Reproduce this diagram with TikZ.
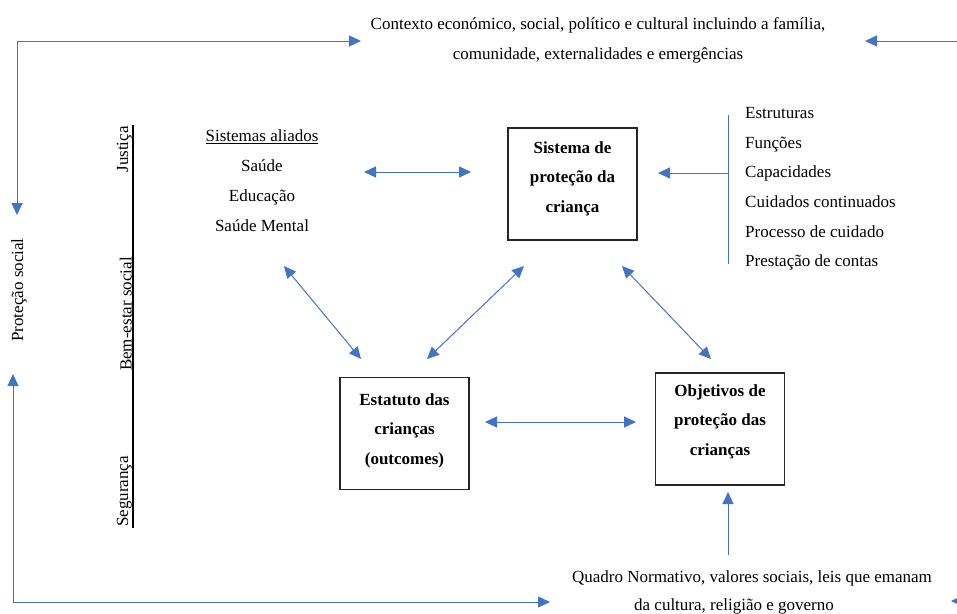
\documentclass[tikz,border=0pt]{standalone}
\usepackage{fontspec}
\setmainfont{Liberation Serif}
\usetikzlibrary{arrows.meta}
\definecolor{linkblue}{RGB}{68,114,196}
\tikzset{
  tipshape/.tip={Triangle[length=12pt,width=11pt]},
  link/.style={draw=linkblue, line width=1pt},
  both/.style={link, tipshape-tipshape},
  one/.style={link, -tipshape},
  box/.style={draw=black!85, line width=1.2pt, minimum width=129pt, minimum height=112pt, inner sep=0pt},
  boxtext/.style={align=center, inner sep=0pt, font=\bfseries\fontsize{17}{29.5}\selectfont},
  txt/.style={inner sep=0pt, font=\fontsize{17}{30}\selectfont},
  sidelabel/.style={inner sep=1pt, rotate=90, font=\fontsize{17}{20}\selectfont},
}
\begin{document}
\begin{tikzpicture}[x=1pt,y=-1pt]
\useasboundingbox (0,0) rectangle (957,613);
\fill[white] (0,0) rectangle (957,613);

% context at the top and normative frame at the bottom
\node[txt, align=center] (ctx) at (598,40) {Contexto económico, social, político e cultural incluindo a família,\\comunidade, externalidades e emergências};
\node[txt] (norm1) at (752,578) {Quadro Normativo, valores sociais, leis que emanam};
\node[txt] (norm2) at (734,606) {da cultura, religião e governo};

% social protection on the far left
\node[sidelabel] (prot) at (19,290) {Proteção social};

% justice / welfare / safety axis
\coordinate (axtop) at (133,125);
\coordinate (axbot) at (133,528);
\draw[black, line width=1.3pt] (axtop) -- (axbot);
\node[sidelabel, anchor=south east] (just) at (axtop) {Justiça};
\node[sidelabel, anchor=south] (bem) at (133,314) {Bem-estar social};
\node[sidelabel, anchor=south west] (seg) at (axbot) {Segurança};

% allied systems
\node[txt, align=center] (allied) at (262,181) {\underline{Sistemas aliados}\\Saúde\\Educação\\Saúde Mental};

% the three main boxes
\node[box] (sys) at (572.5,184) {};
\node[boxtext] (sysT) at (572.5,178.5) {Sistema de\\proteção da\\criança};
\node[box] (est) at (404.5,433.5) {};
\node[boxtext] (estT) at (404.5,430.5) {Estatuto das\\crianças\\(outcomes)};
\node[box] (obj) at (720,429) {};
\node[boxtext] (objT) at (720,421.5) {Objetivos de\\proteção das\\crianças};

% components of the protection system
\node[txt, align=left, anchor=west, font=\fontsize{17}{29.6}\selectfont] (comp) at (745,189) {Estruturas\\Funções\\Capacidades\\Cuidados continuados\\Processo de cuidado\\Prestação de contas};

% outer loop connectors
\coordinate (tlA) at (17,215);
\coordinate (tlC) at (17,41);
\coordinate (tlB) at (361,41);
\draw[both] (tlA) -- (tlC) -- (tlB);
\coordinate (trA) at (965,41);
\coordinate (trB) at (865,41);
\draw[one] (trA) -- (trB);
\coordinate (blA) at (13,374);
\coordinate (blC) at (13,602);
\coordinate (blB) at (550,602);
\draw[both] (blA) -- (blC) -- (blB);
\coordinate (brA) at (980,601);
\coordinate (brB) at (951,601);
\draw[one] (brA) -- (brB);

% component bracket and its arrow
\coordinate (brkT) at (728,115);
\coordinate (brkB) at (728,264);
\coordinate (brkM) at (728,173);
\coordinate (sysR) at (658,173);
\draw[link] (brkT) -- (brkB);
\draw[one] (brkM) -- (sysR);

% normative frame to objectives
\coordinate (normTop) at (728,555);
\coordinate (objBot) at (728,492);
\draw[one] (normTop) -- (objBot);

% relations between the systems
\coordinate (alR) at (364,172);
\coordinate (sysL) at (471,172);
\draw[both] (alR) -- (sysL);
\coordinate (alB) at (284,266);
\coordinate (estTL) at (361,359);
\draw[both] (alB) -- (estTL);
\coordinate (estTR) at (427,359);
\coordinate (sysBL) at (524,266);
\draw[both] (estTR) -- (sysBL);
\coordinate (sysBR) at (622,266);
\coordinate (objTL) at (711,359);
\draw[both] (sysBR) -- (objTL);
\coordinate (estR) at (485,422);
\coordinate (objL) at (636,422);
\draw[both] (estR) -- (objL);
\end{tikzpicture}
\end{document}
